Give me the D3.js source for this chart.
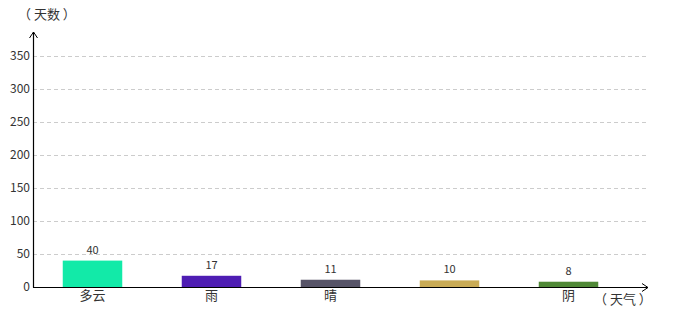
<!DOCTYPE html>
<html>
<head>
<meta charset="utf-8">
<script src="https://cdn.jsdelivr.net/npm/d3@7"></script>
<style>
  body { margin: 0; background: #fff; }
  text { font-family: "Noto Sans CJK SC", "DejaVu Sans", sans-serif; fill: #333; }
  .title { white-space: pre; }
</style>
</head>
<body>
<svg id="chart" width="680" height="320"></svg>
<script>
// weather categories and day counts
let categories = ['多云', '雨', '晴', '', '阴'];
let days = [40, 17, 11, 10, 8];
let colors = ['#12eaa8', '#4e1db3', '#575468', '#c9ab55', '#4f8836'];
let yTicks = [0, 50, 100, 150, 200, 250, 300, 350];

let svg = d3.select('#chart');
let left = 33, bottom = 287;

let x = d3.scaleBand()
  .domain(d3.range(categories.length))
  .range([left, left + 119 * categories.length])
  .paddingInner(0.5)
  .paddingOuter(0.25);

let y = d3.scaleLinear()
  .domain([0, 350])
  .range([bottom, 56]);

// gridlines
svg.selectAll('.grid')
  .data(yTicks.slice(1))
  .enter().append('line')
  .attr('x1', left).attr('x2', 646)
  .attr('y1', d => y(d) + 0.5).attr('y2', d => y(d) + 0.5)
  .attr('stroke', '#ccc')
  .attr('stroke-dasharray', '4,3');

// tick labels
svg.selectAll('.ytick')
  .data(yTicks)
  .enter().append('text')
  .attr('x', left - 3)
  .attr('y', d => y(d))
  .attr('dy', '0.35em')
  .attr('text-anchor', 'end')
  .style('font-size', '12px')
  .text(d => d);

// bars
svg.selectAll('.bar')
  .data(days)
  .enter().append('rect')
  .attr('x', (d, i) => x(i))
  .attr('width', x.bandwidth())
  .attr('y', d => y(d))
  .attr('height', d => bottom - y(d))
  .attr('fill', (d, i) => colors[i]);

// value labels
svg.selectAll('.val')
  .data(days)
  .enter().append('text')
  .attr('x', (d, i) => x(i) + x.bandwidth() / 2)
  .attr('y', d => y(d) - 7)
  .attr('text-anchor', 'middle')
  .style('font-size', '11px')
  .text(d => d);

// category labels
svg.selectAll('.cat')
  .data(categories)
  .enter().append('text')
  .attr('x', (d, i) => x(i) + x.bandwidth() / 2)
  .attr('y', bottom + 13)
  .attr('text-anchor', 'middle')
  .style('font-size', '13px')
  .text(d => d);

// axes with arrows
svg.append('line')
  .attr('x1', left + 0.5).attr('x2', left + 0.5)
  .attr('y1', bottom + 0.5).attr('y2', 32)
  .attr('stroke', '#000').attr('stroke-width', 1.2);
svg.append('path')
  .attr('d', `M${left - 3.5},${38} L${left + 0.5},${32} L${left + 4.5},${38}`)
  .attr('fill', 'none').attr('stroke', '#000');

svg.append('line')
  .attr('x1', left).attr('x2', 648)
  .attr('y1', bottom + 0.5).attr('y2', bottom + 0.5)
  .attr('stroke', '#000').attr('stroke-width', 1.2);
svg.append('path')
  .attr('d', `M${642},${bottom - 3.5} L${648},${bottom + 0.5} L${642},${bottom + 4.5}`)
  .attr('fill', 'none').attr('stroke', '#000');

// axis titles
svg.append('text')
  .attr('class', 'title')
  .attr('x', 18).attr('y', 19)
  .style('font-size', '13px')
  .text('（ 天数 ）');
svg.append('text')
  .attr('class', 'title')
  .attr('x', 594).attr('y', 304)
  .style('font-size', '13px')
  .text('（ 天气 ）');
</script>
</body>
</html>
